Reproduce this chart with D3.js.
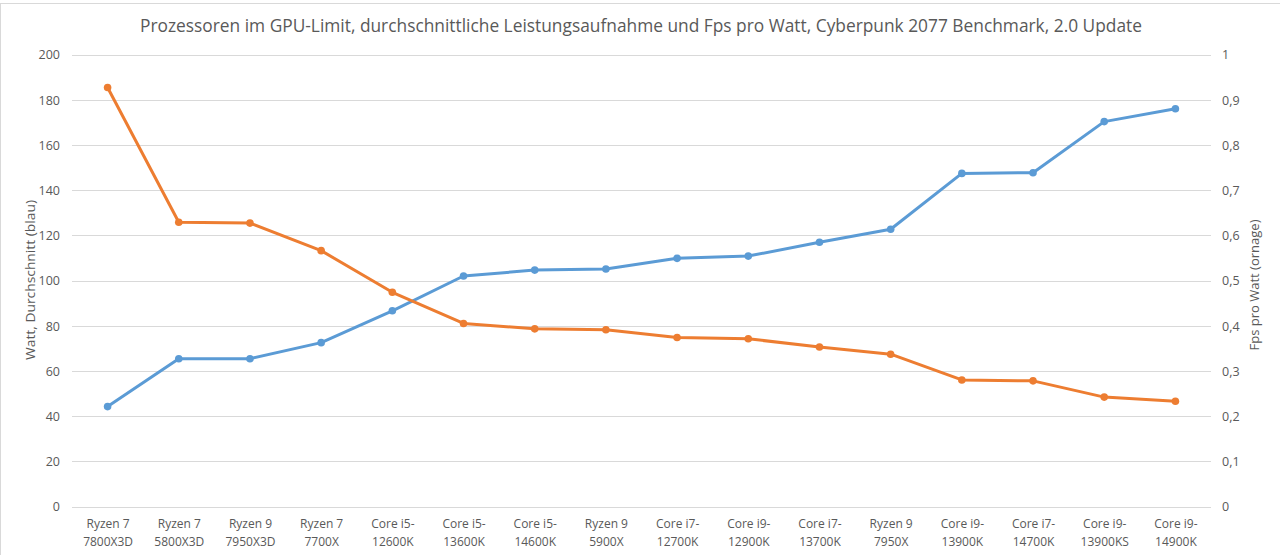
<!DOCTYPE html>
<html><head><meta charset="utf-8">
<script src="https://cdn.jsdelivr.net/npm/d3@7"></script>
<style>
html,body{margin:0;padding:0;background:#fff;}
svg{display:block;font-family:"Liberation Sans Narrow","Open Sans",sans-serif;}
</style></head>
<body>
<svg id="c" width="1280" height="555"></svg>
<script>
const categories = [
  ["Ryzen 7","7800X3D"],["Ryzen 7","5800X3D"],["Ryzen 9","7950X3D"],["Ryzen 7","7700X"],
  ["Core i5-","12600K"],["Core i5-","13600K"],["Core i5-","14600K"],["Ryzen 9","5900X"],
  ["Core i7-","12700K"],["Core i9-","12900K"],["Core i7-","13700K"],["Ryzen 9","7950X"],
  ["Core i9-","13900K"],["Core i7-","14700K"],["Core i9-","13900KS"],["Core i9-","14900K"]
];
const wattValues = [44.2,65.4,65.4,72.5,86.6,102,104.6,105.1,109.8,110.8,116.9,122.7,147.4,147.7,170.3,176];
const fpsPerWattValues = [0.927,0.629,0.627,0.566,0.474,0.405,0.393,0.391,0.374,0.371,0.353,0.337,0.280,0.278,0.242,0.233];
const leftTicks = [0,20,40,60,80,100,120,140,160,180,200];
const rightTicks = [0,0.1,0.2,0.3,0.4,0.5,0.6,0.7,0.8,0.9,1];
const titleText = "Prozessoren im GPU-Limit, durchschnittliche Leistungsaufnahme und Fps pro Watt, Cyberpunk 2077 Benchmark, 2.0 Update";
const leftTitle = "Watt, Durchschnitt (blau)";
const rightTitle = "Fps pro Watt (ornage)";

const svg = d3.select("#c");
const keys = categories.map((c,i)=>i);
const x = d3.scalePoint().domain(keys).range([72,1211]).padding(0.5);
const yL = d3.scaleLinear().domain([0,200]).range([506.5,54.5]);
const yR = d3.scaleLinear().domain([0,1]).range([506.5,54.5]);
const textCol = "#595959";

// border
svg.append("rect").attr("x",0.5).attr("y",3.5).attr("width",1290).attr("height",600)
  .attr("fill","none").attr("stroke","#d9d9d9");

// gridlines
svg.append("g").selectAll("line").data(leftTicks).join("line")
  .attr("x1",72).attr("x2",1211)
  .attr("y1",d=>Math.round(yL(d))+0.5).attr("y2",d=>Math.round(yL(d))+0.5)
  .attr("stroke","#d9d9d9").attr("stroke-width",1);

// left axis
const gl = svg.append("g").attr("transform","translate(60,0)")
  .call(d3.axisLeft(yL).tickValues(leftTicks).tickSize(0).tickPadding(0));
gl.select(".domain").remove();
gl.selectAll("text").attr("fill",textCol).style("font-size","12.5px").style("font-family","'Open Sans',sans-serif").attr("dy","0.35em");

// right axis
const gr = svg.append("g").attr("transform","translate(1222,0)")
  .call(d3.axisRight(yR).tickValues(rightTicks).tickSize(0).tickPadding(0)
    .tickFormat(d=> d===0?"0": d===1?"1": d3.format(".1f")(d).replace(".",",")));
gr.select(".domain").remove();
gr.selectAll("text").attr("fill",textCol).style("font-size","12.5px").style("font-family","'Open Sans',sans-serif").attr("dy","0.35em");

// x labels
const gx = svg.append("g").attr("transform","translate(0,506.5)")
  .call(d3.axisBottom(x).tickSize(0).tickFormat(""));
gx.select(".domain").remove();
gx.selectAll(".tick").each(function(d){
  const t = d3.select(this).append("text").attr("fill",textCol).attr("text-anchor","middle")
    .style("font-size","12px").style("font-family","'Open Sans',sans-serif");
  t.append("tspan").attr("x",0).attr("y",21).text(categories[d][0]);
  t.append("tspan").attr("x",0).attr("y",39).text(categories[d][1]);
});

// title
svg.append("text").attr("x",641).attr("y",32).attr("text-anchor","middle")
  .attr("fill",textCol).style("font-size","18.5px").style("font-family","'Open Sans',sans-serif")
  .attr("textLength",1002).attr("lengthAdjust","spacingAndGlyphs").text(titleText);

// axis titles
svg.append("text").attr("transform","translate(35,280) rotate(-90)").attr("text-anchor","middle")
  .attr("fill",textCol).style("font-size","13.5px").style("font-family","'Open Sans',sans-serif")
  .attr("textLength",160).attr("lengthAdjust","spacingAndGlyphs").text(leftTitle);
svg.append("text").attr("transform","translate(1259,285) rotate(-90)").attr("text-anchor","middle")
  .attr("fill",textCol).style("font-size","13.5px").style("font-family","'Open Sans',sans-serif")
  .attr("textLength",131).attr("lengthAdjust","spacingAndGlyphs").text(rightTitle);

// series
function series(vals, y, col){
  const line = d3.line().x((d,i)=>x(i)).y(d=>y(d));
  svg.append("path").datum(vals).attr("d",line).attr("fill","none")
    .attr("stroke",col).attr("stroke-width",3).attr("stroke-linejoin","round");
  svg.append("g").selectAll("circle").data(vals).join("circle")
    .attr("cx",(d,i)=>x(i)).attr("cy",d=>y(d)).attr("r",3.8).attr("fill",col);
}
series(wattValues, yL, "#5b9bd5");
series(fpsPerWattValues, yR, "#ed7d31");
</script>
</body></html>
